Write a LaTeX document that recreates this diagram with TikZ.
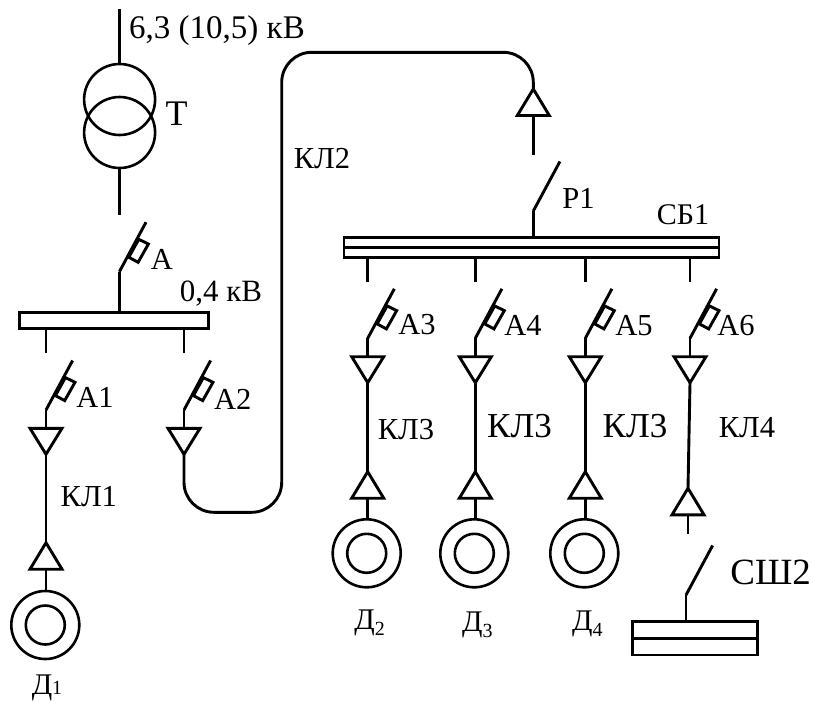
\documentclass[tikz,border=0pt]{standalone}
\usepackage{fontspec}
\setmainfont{Liberation Serif}
\usetikzlibrary{calc}
\tikzset{
  wire/.style={line width=2.9pt,line cap=butt,line join=miter,black},
  busbar/.style={draw,line width=2.9pt,inner sep=0pt,minimum width=#1,minimum height=16pt,outer sep=0pt},
  motorout/.style={draw,circle,line width=2.6pt,inner sep=0pt,minimum size=68pt,outer sep=0pt},
  motorin/.style={draw,circle,line width=2.6pt,inner sep=0pt,minimum size=39pt,outer sep=0pt},
  coil/.style={draw,circle,line width=2.6pt,inner sep=0pt,minimum size=71pt,outer sep=0pt},
  lab/.style={anchor=base,inner sep=0pt,font=\fontsize{30.5}{30.5}\selectfont},
}
% switch blade: name, hinge x, hinge y
\newcommand\blade[3]{%
  \coordinate (#1h) at (#2,#3);
  \coordinate (#1t) at ($(#1h)+(26.6,-49.5)$);
  \draw[wire] (#1h) -- (#1t);}
% fuse on a blade
\newcommand\fuse[1]{%
  \draw[wire] ($(#1h)+(19.4,-32.4)$) -- ($(#1h)+(29,-27.7)$) -- ($(#1h)+(18.7,-9.4)$) -- ($(#1h)+(9.4,-14.4)$) -- cycle;}
% cable end opening downward: name, x, base y; apex below
\newcommand\tridown[3]{%
  \coordinate (#1b) at (#2,#3);
  \coordinate (#1a) at (#2,#3+26);
  \draw[wire] ($(#1b)+(-16,0)$) -- ($(#1b)+(16,0)$) -- (#1a) -- cycle;}
% cable end opening upward: name, x, apex y; base below
\newcommand\triup[3]{%
  \coordinate (#1a) at (#2,#3);
  \coordinate (#1b) at (#2,#3+26.5);
  \draw[wire] ($(#1b)+(-16,0)$) -- ($(#1b)+(16,0)$) -- (#1a) -- cycle;}
\begin{document}
\begin{tikzpicture}[x=1pt,y=-1pt]
\path[use as bounding box,fill=white] (0,0) rectangle (813,702);

% Transformer
\coordinate (hvtop) at (119.6,9);
\coordinate (lvend) at (119.6,215);
\node[coil] (t1) at (119.6,99.5) {};
\node[coil] (t2) at (119.6,132.5) {};
\draw[wire] (hvtop) -- (t1.north);
\draw[wire] (t2.south) -- (lvend);
\node[lab,font=\fontsize{33}{33}\selectfont] (lhv) at (217,38) {6,3 (10,5) кВ};
\node[lab,font=\fontsize{36}{36}\selectfont] (lt) at (176.7,125) {Т};

% Breaker A and 0.4 kV bus
\node[busbar=189pt] (bus0) at (113.8,320.3) {};
\blade{a}{119.4}{271.7}\fuse{a}
\draw[wire] (ah) -- (ah |- bus0.north);
\node[lab] (la) at (162,269) {А};
\node[lab,font=\fontsize{31}{31}\selectfont] (lbus0) at (221,301) {0,4 кВ};

% A1 and A2 feeders
\coordinate (s1) at (46,353);
\coordinate (s2) at (184,353);
\draw[wire] (s1 |- bus0.south) -- (s1);
\draw[wire] (s2 |- bus0.south) -- (s2);
\blade{aa}{46}{410}\fuse{aa}
\blade{ab}{184}{410}\fuse{ab}
\tridown{da}{46}{428.3}
\tridown{db}{184}{428.3}
\draw[wire] (aah) -- (dab);
\draw[wire] (abh) -- (dbb);
\triup{ua}{46}{542.7}
\node[motorout] (m1) at (45.3,625) {};
\node[motorin] (m1i) at (45.3,625) {};
\draw[wire] (daa) -- (uaa);
\draw[wire] (uab) -- (uab |- m1.north);
\node[lab] (la1) at (95,407) {А1};
\node[lab] (la2) at (232.7,409) {А2};
\node[lab] (lk1) at (88.8,506.7) {КЛ1};
\node[lab] (lk2) at (322,168) {КЛ2};
\node[anchor=base,inner sep=0pt,font=\fontsize{30}{30}\selectfont] (ld1) at (47,694) {Д\fontsize{20}{20}\selectfont 1};

% Cable KL2 and disconnector P1
\triup{up}{533.3}{89}
\coordinate (c1) at (184,512.3);
\coordinate (c2) at (281.7,512.3);
\coordinate (c3) at (281.7,52.3);
\coordinate (c4) at (533.3,52.3);
\draw[wire,rounded corners=30pt] (dba) -- (c1) -- (c2) -- (c3) -- (c4) -- (upa);
\coordinate (pend) at (533.3,155);
\draw[wire] (upb) -- (pend);
\node[busbar=375pt,minimum height=20pt] (bus1) at (531.5,247.3) {};
\draw[line width=3.6pt] (bus1.west) -- (bus1.east);
\blade{pp}{533.3}{211}
\draw[wire] (pph) -- (pph |- bus1.north);
\node[lab] (lp1) at (578.5,208) {Р1};
\node[lab,font=\fontsize{30}{30}\selectfont] (lsb) at (683,224) {СБ1};

% Motor feeders A3..A5
\foreach \nm/\xx/\lb/\lx/\ly/\kx/\ky/\fs/\m/\sb/\dy in {
  c/367.7/3/417/334/406/439/30.5/366.7/2/629,
  d/475.3/4/523/335.7/519.5/437/35/474.3/3/631,
  e/585.3/5/634/335/635/437/35/584.3/4/630}{
  \coordinate (st\nm) at (\xx,281.7);
  \draw[wire] (st\nm |- bus1.south) -- (st\nm);
  \blade{a\nm}{\xx}{338.3}\fuse{a\nm}
  \tridown{d\nm}{\xx}{356.7}
  \draw[wire] (a\nm h) -- (d\nm b);
  \triup{u\nm}{\xx}{471.7}
  \draw[wire] (d\nm a) -- (u\nm a);
  \node[motorout] (m\nm) at (\m,553.3) {};
  \node[motorin] (m\nm i) at (\m,553.3) {};
  \draw[wire] (u\nm b) -- (u\nm b |- m\nm.north);
  \node[lab] (la\nm) at (\lx,\ly) {А\lb};
  \node[anchor=base,inner sep=0pt,font=\fontsize{\fs}{\fs}\selectfont] (lk\nm) at (\kx,\ky) {КЛ3};
  \node[anchor=base,inner sep=0pt,font=\fontsize{30}{30}\selectfont] (ld\nm) at ({\m+3},\dy) {Д\raisebox{-6pt}{\fontsize{20}{20}\selectfont \sb}};
}

% A6 feeder with KL4 and section bus 2
\coordinate (stf) at (690,281.7);
\draw[wire] (stf |- bus1.south) -- (stf);
\blade{af}{690}{338.3}\fuse{af}
\tridown{df}{690}{356.7}
\draw[wire] (afh) -- (dfb);
\triup{uf}{688}{488.3}
\draw[wire] (dfa) -- (ufa);
\coordinate (fend) at (688,534);
\draw[wire] (ufb) -- (fend);
\node[lab] (laf) at (736,335) {А6};
\node[lab] (lk4) at (747,437) {КЛ4};
\node[busbar=124.6pt,minimum height=33.4pt] (bus2) at (695,638.3) {};
\draw[wire] (bus2.west) -- (bus2.east);
\blade{g}{686}{595}
\draw[wire] (gh) -- (gh |- bus2.north);
\node[lab,font=\fontsize{37}{37}\selectfont] (lsh) at (770.7,584) {СШ2};
\end{tikzpicture}
\end{document}
